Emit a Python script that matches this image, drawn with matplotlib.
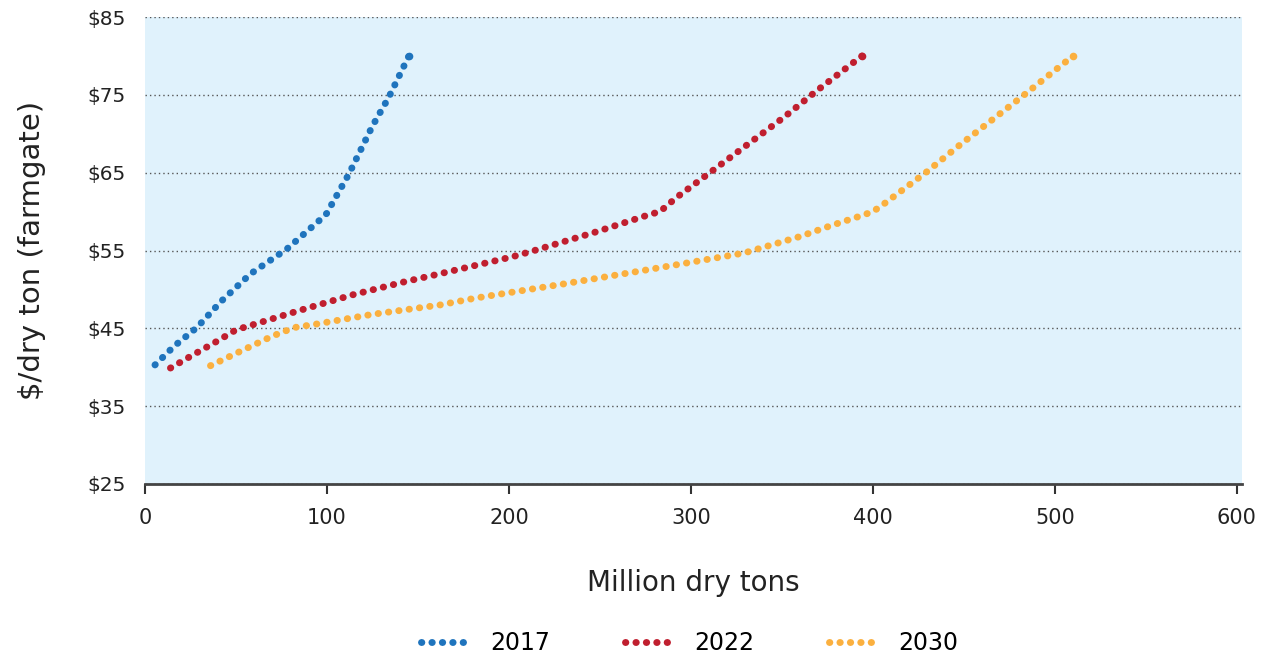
import matplotlib
matplotlib.use("Agg")
from matplotlib import pyplot as plt

# supply curves: million dry tons vs $/dry ton
tons_2017 = [5.5, 16, 28.5, 42, 58, 78, 96, 100, 103, 112, 125, 134, 145]
price_2017 = [40.3, 42.7, 45.1, 48.5, 52.0, 55.2, 58.9, 59.8, 61.1, 64.8, 71.0, 74.7, 80.0]

tons_2022 = [14, 25, 40, 50, 57, 85, 114, 143, 160, 202, 214, 248, 277, 283,
             292, 311, 331, 351, 369, 394]
price_2022 = [39.9, 41.4, 43.4, 44.8, 45.3, 47.3, 49.3, 51.0, 51.9, 54.2, 55.0,
              57.4, 59.6, 60.0, 61.8, 65.1, 68.6, 72.1, 75.5, 80.0]

tons_2030 = [36, 52, 70, 82, 93, 125, 162, 182, 230, 278, 325, 331, 360, 377,
             394, 400, 405, 429, 448, 481, 510]
price_2030 = [40.2, 42.0, 44.0, 45.1, 45.5, 46.8, 48.0, 48.9, 50.7, 52.6, 54.5,
              54.8, 56.8, 58.2, 59.5, 60.0, 60.8, 65.0, 68.6, 74.6, 80.0]

years = ["2017", "2022", "2030"]
colors = ["#1f74bd", "#c01f2f", "#fbb03f"]

y_ticks = [25, 35, 45, 55, 65, 75, 85]
x_ticks = [0, 100, 200, 300, 400, 500, 600]

plt.rcParams['font.family'] = ['DejaVu Sans']

fig = plt.figure(figsize=(12.63, 6.6), dpi=100)
ax = fig.add_axes([0.1148, 0.2667, 0.8688, 0.7075])
ax.set_facecolor("#e0f2fc")

dots = (0, (0.05, 1.45))
series = [(tons_2017, price_2017), (tons_2022, price_2022), (tons_2030, price_2030)]
for (xs, ys), c, lab in zip(series, colors, years):
    ax.plot(xs, ys, color=c, lw=5.0, linestyle=dots, dash_capstyle='round',
            label=lab, zorder=3)
    # make sure each curve ends on a dot
    ax.plot(xs[-1:], ys[-1:], 'o', color=c, ms=5.5, mew=0, zorder=3)

ax.set_xlim(0, 603)
ax.set_ylim(25, 85)
ax.set_xticks(x_ticks)
ax.set_yticks(y_ticks)
ax.set_yticklabels(["$%d" % v for v in y_ticks])
ax.tick_params(axis='y', length=0, pad=14, labelsize=14.5, colors='#222222')
ax.tick_params(axis='x', length=7, width=1.5, color='#333333', pad=10,
               labelsize=15, labelcolor='#222222')

for s in ['top', 'right', 'left']:
    ax.spines[s].set_visible(False)
ax.spines['bottom'].set_color('#444444')
ax.spines['bottom'].set_linewidth(2)

ax.yaxis.grid(True, linestyle=(0, (1, 2.2)), color='#555555', lw=1)
ax.set_axisbelow(True)

ax.set_xlabel("Million dry tons", fontsize=20, color='#222222', labelpad=30)
ax.set_ylabel("$/dry ton (farmgate)", fontsize=21, color='#222222', labelpad=30)

fig.legend(loc='center', bbox_to_anchor=(0.546, 0.026), ncol=3, frameon=False,
           fontsize=17, handlelength=2.2, columnspacing=3.2, handletextpad=0.7)

plt.savefig("out.png", dpi=100)
